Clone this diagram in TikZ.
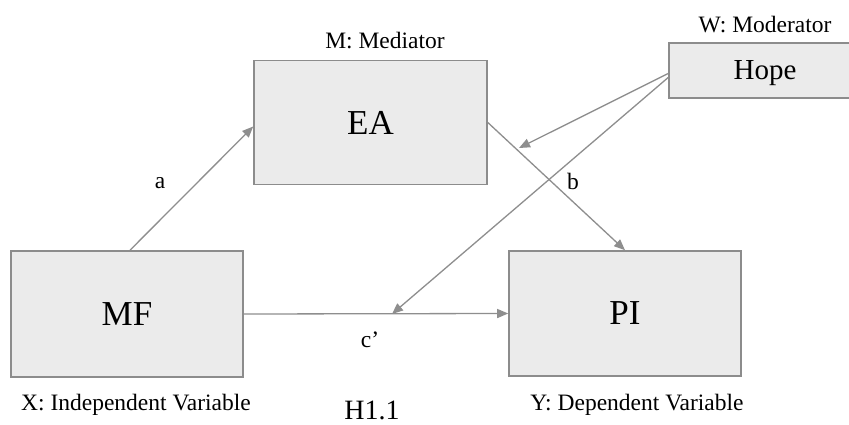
\documentclass[tikz,border=0pt]{standalone}
\usepackage{fontspec}
\setmainfont{Liberation Serif}
\usetikzlibrary{arrows.meta,calc}
\definecolor{boxfill}{HTML}{EBEBEB}
\definecolor{boxline}{HTML}{8C8C8C}
\definecolor{arrline}{HTML}{8E8E8E}
\tikzset{
  varbox/.style={draw=boxline, line width=1.6pt, fill=boxfill, inner sep=0pt, font=\fontsize{35}{40}\selectfont},
  lbl/.style={inner sep=0pt, font=\fontsize{23.5}{28}\selectfont},
  conn/.style={draw=arrline, line width=1.3pt, -{Triangle[length=11pt,width=9pt]}}
}
\begin{document}
\begin{tikzpicture}[x=1pt,y=-1pt]
\clip (0,0) rectangle (849,425);
\fill[white] (0,0) rectangle (849,425);
\node[varbox, minimum width=233pt, minimum height=124pt] (EA) at (370.5,122.5) {EA};
\node[varbox, minimum width=232pt, minimum height=126pt] (MF) at (127,314) {MF};
\node[varbox, minimum width=232pt, minimum height=125pt] (PI) at (625,313.5) {PI};
\node[varbox, minimum width=192pt, minimum height=55pt, text depth=0pt, font=\fontsize{29}{34}\selectfont] (Hope) at (765,70.5) {Hope};

\node[lbl] (Mlab) at (385,41) {M: Mediator};
\node[lbl] (Wlab) at (765,25) {W: Moderator};
\node[lbl] (Xlab) at (136,405) {X: Independent Variable};
\node[lbl] (Ylab) at (637,405) {Y: Dependent Variable};
\node[lbl, font=\fontsize{28}{32}\selectfont] (H) at (372,410) {H1.1};

\node[lbl] (alab) at (160,183) {a};
\node[lbl] (blab) at (573,181) {b};
\node[lbl] (clab) at (370,340) {c’};

\coordinate (m1) at (519,148);
\coordinate (m2) at (392,314);

\draw[conn] ($(MF.north)+(3,0)$) -- ($(EA.west)+(0,4)$);
\draw[conn] (EA.east) -- (PI.north);
\draw[conn] (MF.east) -- (PI.west);
\draw[conn] ($(Hope.west)+(0,3)$) -- (m1);
\draw[conn] ($(Hope.west)+(0,7)$) -- (m2);
\end{tikzpicture}
\end{document}
